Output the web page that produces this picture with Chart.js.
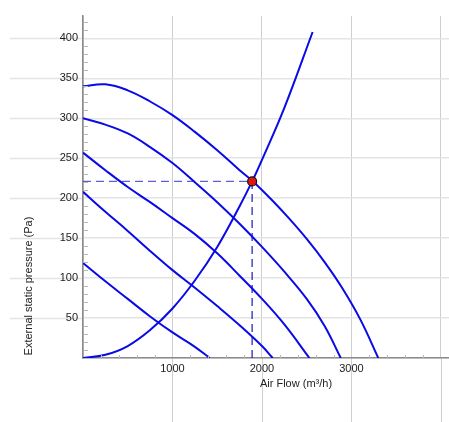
<!DOCTYPE html>
<html>
<head>
<meta charset="utf-8">
<script src="https://cdn.jsdelivr.net/npm/chart.js@4.4.1/dist/chart.umd.min.js"></script>
<style>
  html, body { margin: 0; padding: 0; background: #fff; }
  #wrap { width: 449px; height: 422px; }
</style>
</head>
<body>
<div id="wrap"><canvas id="chart"></canvas></div>
<script>
// fan curves (air flow m3/h / pressure Pa)
const curve1Flow = [0, 250, 500, 750, 1000, 1250, 1500, 1750, 1900, 2100, 2300, 2500, 2700, 2900, 3100, 3300];
const curve1Pressure = [340, 342.5, 335, 321, 304, 283, 260, 235, 221, 199, 175, 149, 120, 87, 48, 0];

const curve2Flow = [0, 250, 500, 750, 1000, 1250, 1500, 1750, 2000, 2250, 2500, 2700, 2880];
const curve2Pressure = [300, 292, 281, 264, 244, 220, 195, 168, 139, 108, 74, 40, 0];

const curve3Flow = [0, 250, 500, 750, 1000, 1250, 1500, 1750, 2000, 2250, 2530];
const curve3Pressure = [257, 235, 214, 195, 175, 155, 131, 103, 74, 42, 0];

const curve4Flow = [0, 250, 500, 750, 1000, 1250, 1500, 1750, 2000, 2120];
const curve4Pressure = [208, 183, 159, 134, 110, 88, 65, 41, 15, 0];

const curve5Flow = [0, 250, 500, 750, 1000, 1250, 1415];
const curve5Pressure = [119, 96, 74, 52, 32, 14, 0];

// system curve
const systemFlow = [0, 250, 500, 750, 1000, 1250, 1500, 1750, 1890, 2000, 2250, 2566];
const systemPressure = [0, 4, 15, 35, 62, 97, 139, 190, 221, 248, 313, 408];

// operating point
const opFlow = 1890;
const opPressure = 221;

// axes
const xGridValues = [0, 1000, 2000, 3000, 4000];
const xLabelValues = [1000, 2000, 3000];
const yGridValues = [0, 50, 100, 150, 200, 250, 300, 350, 400];
const yLabelValues = [50, 100, 150, 200, 250, 300, 350, 400];
const xMinorStep = 200;
const yMinorStep = 10;
const xTitle = 'Air Flow (m³/h)';
const yTitle = 'External static pressure (Pa)';

const FONT = '"Liberation Sans", Arial, sans-serif';
const BLUE = '#0a0ae8';

const pts = (xs, ys) => xs.map((x, i) => ({ x: x, y: ys[i] }));

const curve = (xs, ys) => ({
  data: pts(xs, ys),
  showLine: true,
  borderColor: BLUE,
  borderWidth: 2,
  pointRadius: 0,
  tension: 0.4,
  fill: false,
  order: 2
});

// extended grid lines, minor ticks and the axis titles
const extras = {
  id: 'extras',
  beforeDraw(chart) {
    const { ctx, chartArea: a, scales: { x, y } } = chart;
    ctx.save();
    ctx.lineWidth = 1.5;
    ctx.strokeStyle = '#e4e4e4';
    yGridValues.forEach(v => {
      if (v === 0) return;
      const py = Math.round(y.getPixelForValue(v)) + 0.5;
      ctx.beginPath();
      ctx.moveTo(10, py);
      ctx.lineTo(a.left, py);
      ctx.stroke();
    });
    ctx.lineWidth = 1;
    ctx.strokeStyle = '#cfcfcf';
    xGridValues.forEach(v => {
      if (v === 0) return;
      const px = Math.round(x.getPixelForValue(v)) + 0.5;
      ctx.beginPath();
      ctx.moveTo(px, a.bottom);
      ctx.lineTo(px, chart.height);
      ctx.stroke();
    });
    ctx.restore();
  },
  afterDatasetsDraw(chart) {
    const { ctx, chartArea: a, scales: { x, y } } = chart;
    ctx.save();
    ctx.lineWidth = 1;
    ctx.strokeStyle = '#b8b8b8';
    for (let v = yMinorStep; v <= y.max; v += yMinorStep) {
      if (v % 50 === 0) continue;
      const py = Math.round(y.getPixelForValue(v)) + 0.5;
      ctx.beginPath();
      ctx.moveTo(a.left, py);
      ctx.lineTo(a.left + 5, py);
      ctx.stroke();
    }
    for (let v = xMinorStep; v <= x.max; v += xMinorStep) {
      if (v % 1000 === 0) continue;
      const px = Math.round(x.getPixelForValue(v)) + 0.5;
      ctx.beginPath();
      ctx.moveTo(px, a.bottom - 3);
      ctx.lineTo(px, a.bottom);
      ctx.stroke();
    }
    ctx.fillStyle = '#222';
    ctx.font = '11px ' + FONT;
    ctx.textAlign = 'center';
    ctx.textBaseline = 'middle';
    ctx.fillText(xTitle, a.left + 213, a.bottom + 26);
    ctx.translate(29, a.bottom - 72);
    ctx.rotate(-Math.PI / 2);
    ctx.fillText(yTitle, 0, 0);
    ctx.restore();
  }
};

new Chart(document.getElementById('chart'), {
  type: 'scatter',
  data: {
    datasets: [
      curve(curve1Flow, curve1Pressure),
      curve(curve2Flow, curve2Pressure),
      curve(curve3Flow, curve3Pressure),
      curve(curve4Flow, curve4Pressure),
      curve(curve5Flow, curve5Pressure),
      curve(systemFlow, systemPressure),
      {
        data: [{ x: 0, y: opPressure }, { x: opFlow, y: opPressure }],
        showLine: true,
        borderColor: 'rgba(40, 40, 200, 0.75)',
        borderWidth: 1.3,
        borderDash: [8, 5],
        pointRadius: 0,
        order: 3
      },
      {
        data: [{ x: opFlow, y: 0 }, { x: opFlow, y: opPressure }],
        showLine: true,
        borderColor: 'rgba(20, 20, 180, 0.9)',
        borderWidth: 1.3,
        borderDash: [8, 5],
        pointRadius: 0,
        order: 3
      },
      {
        data: [{ x: opFlow, y: opPressure }],
        pointRadius: 4.5,
        pointBackgroundColor: '#e01414',
        pointBorderColor: '#111',
        pointBorderWidth: 1.2,
        order: 1
      }
    ]
  },
  options: {
    responsive: true,
    maintainAspectRatio: false,
    animation: false,
    layout: { autoPadding: false, padding: { top: 16, right: 0, left: 0, bottom: 0 } },
    plugins: {
      legend: { display: false },
      tooltip: { enabled: false }
    },
    scales: {
      x: {
        type: 'linear',
        min: 0,
        max: 4090,
        afterBuildTicks: s => { s.ticks = xGridValues.map(v => ({ value: v })); },
        afterFit: s => { s.height = 64; },
        grid: { color: '#cfcfcf', lineWidth: 1, drawTicks: false },
        border: { color: '#8a8a8a', width: 1.5 },
        ticks: {
          padding: 4,
          color: '#1a1a1a',
          font: { family: FONT, size: 11 },
          maxRotation: 0,
          callback: v => xLabelValues.includes(v) ? String(v) : ''
        }
      },
      y: {
        type: 'linear',
        min: 0,
        max: 428,
        afterBuildTicks: s => { s.ticks = yGridValues.map(v => ({ value: v })); },
        afterFit: s => { s.width = 83; },
        grid: { color: '#e4e4e4', lineWidth: 1.5, drawTicks: false },
        border: { color: '#8a8a8a', width: 1.5 },
        ticks: {
          padding: 5,
          color: '#1a1a1a',
          font: { family: FONT, size: 11 },
          callback: v => yLabelValues.includes(v) ? String(v) : ''
        }
      }
    }
  },
  plugins: [extras]
});
</script>
</body>
</html>
